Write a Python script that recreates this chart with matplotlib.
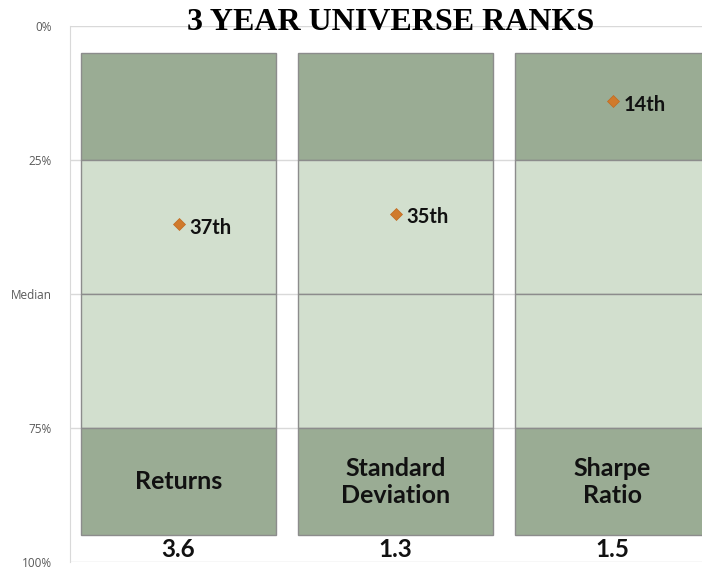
import matplotlib
matplotlib.use("Agg")
import matplotlib.pyplot as plt

# Data
categories = ["Returns", "Standard\nDeviation", "Sharpe\nRatio"]
ranks = [37, 35, 14]
values = ["3.6", "1.3", "1.5"]
band_edges = [5, 25, 50, 75, 95]
tick_pos = [0, 25, 50, 75, 100]
tick_labels = ["0%", "25%", "Median", "75%", "100%"]

W, H = 702, 569
fig = plt.figure(figsize=(W / 100, H / 100), dpi=100)
ax = fig.add_axes([70 / W, 7 / H, 651 / W, 536 / H])

dark = "#9AAC94"
light = "#D2DFCE"
band_colors = [dark, light, light, dark]
x = list(range(len(categories)))

for i in range(len(band_edges) - 1):
    lo, hi = band_edges[i], band_edges[i + 1]
    ax.bar(x, [hi - lo] * len(x), bottom=lo, width=0.9, color=band_colors[i],
           edgecolor="#8C8C8C", linewidth=1.0, zorder=2)

ax.plot(x, ranks, linestyle="none", marker="D", ms=6, color="#D07A2C",
        markeredgecolor="#C06A20", markeredgewidth=0.5, zorder=4)
for xi, r in zip(x, ranks):
    ax.annotate(f"{r}th", (xi, r), xytext=(8, -2.5), textcoords="offset points",
                ha="left", va="center", fontsize=14.5, fontweight="bold",
                family=["Lato", "DejaVu Sans"], color="#111111", zorder=5)

for xi, c in zip(x, categories):
    ax.text(xi, (band_edges[-2] + band_edges[-1]) / 2, c, ha="center", va="center",
            fontsize=18, fontweight="bold", family=["Lato", "DejaVu Sans"],
            color="#111111", linespacing=1.22, zorder=5)

for xi, v in zip(x, values):
    ax.text(xi, 97.6, v, ha="center", va="center", fontsize=17.5, fontweight="bold",
            family=["Lato", "DejaVu Sans"], color="#111111", zorder=5)

ax.set_xlim(-0.5, 2.5)
ax.set_ylim(100, 0)
ax.set_yticks(tick_pos)
ax.set_yticklabels(tick_labels, fontsize=8.5, color="#595959",
                   family=["Open Sans", "DejaVu Sans"])
ax.tick_params(axis="y", length=0, pad=13)
ax.set_xticks([])
ax.yaxis.grid(True, color="#D9D9D9", linewidth=1.0, zorder=0)
ax.set_axisbelow(True)
for s in ["top", "right", "bottom"]:
    ax.spines[s].set_visible(False)
ax.spines["left"].set_color("#D9D9D9")

fig.text(391 / W, 1 - 22 / H, "3 YEAR UNIVERSE RANKS", ha="center", va="center",
         fontsize=23, fontweight="bold", family=["Liberation Serif", "DejaVu Serif"],
         color="#000000", zorder=10)

fig.savefig("out.png", dpi=100)
